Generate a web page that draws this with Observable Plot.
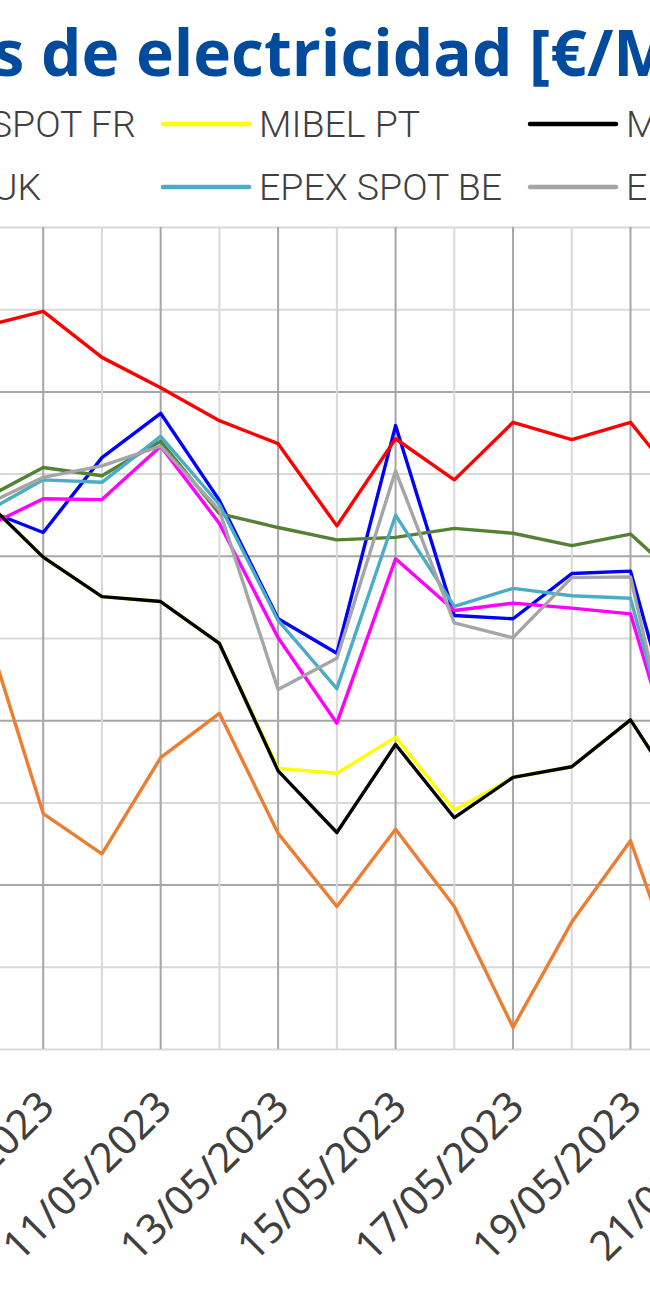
<!DOCTYPE html>
<html><head><meta charset="utf-8">
<script src="https://cdn.jsdelivr.net/npm/d3@7"></script>
<script src="https://cdn.jsdelivr.net/npm/@observablehq/plot@0.6"></script>
<style>
html,body{margin:0;padding:0;background:#fff;overflow:hidden;width:650px;height:1300px}
svg{display:block}
</style></head><body>
<div id="header"></div>
<div id="chart"></div>
<script>
// ---- data ----
const titleText = "Precios de electricidad [€/MWh]";
const dates = ["2023-05-08","2023-05-09","2023-05-10","2023-05-11","2023-05-12","2023-05-13","2023-05-14","2023-05-15","2023-05-16","2023-05-17","2023-05-18","2023-05-19","2023-05-20"];
const tickLabels = ["09/05/2023","11/05/2023","13/05/2023","15/05/2023","17/05/2023","19/05/2023","21/05/2023"];
const yGrid = [30,40,50,60,70,80,90,100,110,120,130];
const yMajor = [50,70,90,110];

const seriesNames = ["EPEX SPOT DE","EPEX SPOT FR","MIBEL PT","MIBEL ES","N2EX UK","EPEX SPOT BE","EPEX SPOT NL","Nord Pool","IPEX IT"];
const seriesColors = ["#0000ff","#ff00ff","#ffff00","#000000","#548235","#4bacc6","#a5a5a5","#ed7d31","#ff0000"];

const DE = [95.7,92.9,102.0,107.4,96.8,82.4,78.2,105.9,82.8,82.4,87.9,88.2,62.5];
const FR = [93.5,97.0,96.9,103.4,94.0,80.1,69.7,89.7,83.4,84.3,83.7,83.0,59.1];
const PT = [96.9,89.9,85.1,84.5,79.4,64.2,63.6,68.0,59.1,63.1,64.4,70.1,59.1];
const ES = [96.9,89.9,85.1,84.5,79.4,63.9,56.4,67.1,58.2,63.1,64.4,70.1,59.1];
const UK = [97.0,100.8,99.8,104.0,95.2,93.5,92.0,92.3,93.4,92.8,91.3,92.7,86.2];
const BE = [95.3,99.3,99.0,104.6,96.3,82.2,73.9,95.0,83.9,86.1,85.2,84.9,58.5];
const NL = [96.2,99.6,101.0,103.4,95.6,73.8,77.6,100.4,81.9,80.1,87.4,87.5,56.0];
const NP = [81.7,58.7,53.8,65.5,70.9,56.3,47.4,56.8,47.4,32.7,45.5,55.4,35.1];
const IT = [118.0,119.8,114.2,110.5,106.5,103.7,93.7,104.3,99.3,106.3,104.2,106.3,97.4];
const seriesValues = [DE,FR,PT,ES,UK,BE,NL,NP,IT];

// legend entries visible in this view (column index, row index)
const legendNames = ["EPEX SPOT FR","MIBEL PT","MIBEL ES","N2EX UK","EPEX SPOT BE","EPEX SPOT NL"];
const legendCols = [0,1,2,0,1,2];
const legendRows = [0,0,0,1,1,1];

// ---- build ----
const parse = d3.utcParse("%Y-%m-%d");
const parseTick = d3.utcParse("%d/%m/%Y");
const rows = [];
seriesNames.forEach((s, k) => {
  seriesValues[k].forEach((v, i) => rows.push({series: s, date: parse(dates[i]), value: v}));
});
const colorOf = Object.fromEntries(seriesNames.map((s,i)=>[s,seriesColors[i]]));
const dayDates = dates.map(parse);

// header: title + legend
const W = 650, HH = 210;
const TF = "'Open Sans', Roboto, sans-serif";
const TS = 64;
const hdr = d3.select("#header").append("svg").attr("width", W).attr("height", HH);
const title = hdr.append("text")
  .attr("y", 76)
  .attr("font-family", TF)
  .attr("font-weight", 700)
  .attr("font-size", TS)
  .attr("fill", "#004b9c")
  .text(titleText);
function measure(s) {
  const p = hdr.append("text").attr("font-family", TF).attr("font-weight", 700)
    .attr("font-size", TS).text(s);
  const w = p.node().getComputedTextLength();
  p.remove();
  return w;
}
// width of "Precios " = width("Precios de") - width("de")
const pre = measure("Precios de") - measure("de");
title.attr("x", 41 - pre);

const colX = [-204, 163, 530];
const rowY = [124, 187];
legendNames.forEach((name, i) => {
  const x0 = colX[legendCols[i]], y0 = rowY[legendRows[i]];
  hdr.append("line").attr("x1", x0).attr("x2", x0 + 86).attr("y1", y0).attr("y2", y0)
    .attr("stroke", colorOf[name]).attr("stroke-width", 4.5).attr("stroke-linecap", "round");
  hdr.append("text").attr("x", x0 + 96).attr("y", y0 + 13)
    .attr("font-family", "Roboto, sans-serif").attr("font-weight", 300)
    .attr("font-size", 37.5).attr("fill", "#404040").text(name);
});

// chart
const top0 = HH;
const plot = Plot.plot({
  width: W, height: 1300 - HH,
  marginTop: 0, marginBottom: 0, marginLeft: 0, marginRight: 0,
  x: {type: "utc", domain: [dayDates[0], dayDates[dayDates.length-1]], range: [-16.03, 688.73], axis: null},
  y: {domain: [30, 130], range: [1049 - top0, 227 - top0], axis: null},
  color: {domain: seriesNames, range: seriesColors},
  marks: [
    Plot.ruleY(yGrid.filter(v => !yMajor.includes(v)), {y: d => d, stroke: "#d9d9d9", strokeWidth: 2}),
    Plot.ruleY(yMajor, {y: d => d, stroke: "#a6a6a6", strokeWidth: 2}),
    Plot.ruleX(dayDates.filter(d => d.getUTCDate() % 2 === 0), {x: d => d, y1: 30, y2: 130, stroke: "#d9d9d9", strokeWidth: 2}),
    Plot.ruleX(dayDates.filter(d => d.getUTCDate() % 2 === 1), {x: d => d, y1: 30, y2: 130, stroke: "#a6a6a6", strokeWidth: 2}),
    Plot.line(rows, {x: "date", y: "value", z: "series", stroke: "series", strokeWidth: 3.4, strokeLinejoin: "round"}),
    Plot.text(tickLabels, {x: d => parseTick(d), y: () => 30, text: d => d, rotate: -45, textAnchor: "end",
      dx: 4, dy: 50, fontSize: 41, fill: "#404040", fontFamily: "'Noto Sans', sans-serif"})
  ]
});
document.getElementById("chart").appendChild(plot);
</script>
</body></html>
